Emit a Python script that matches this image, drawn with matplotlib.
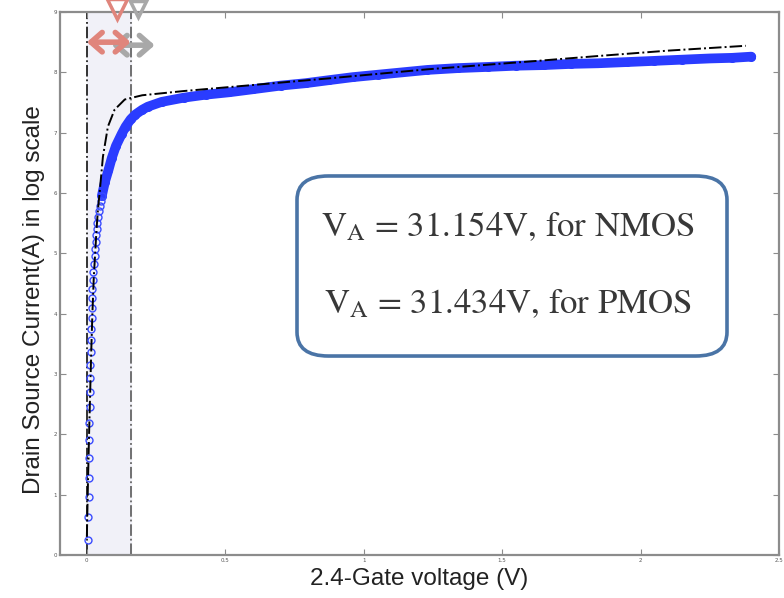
import matplotlib
matplotlib.use("Agg")
import matplotlib.pyplot as plt
from matplotlib.patches import FancyBboxPatch, FancyArrowPatch

# ---------------- data ----------------
# sparse measured points (open circles) near Vsd ~ 0
meas_x_low = [0.005, 0.005, 0.006, 0.006, 0.007, 0.008, 0.009, 0.010, 0.011, 0.012,
              0.013, 0.014, 0.015, 0.016, 0.017, 0.018, 0.019, 0.020, 0.022, 0.024,
              0.026, 0.028, 0.030, 0.032, 0.034, 0.036, 0.038, 0.040, 0.043, 0.046,
              0.050, 0.054]
meas_y_low = [0.25, 0.63, 0.96, 1.28, 1.61, 1.91, 2.19, 2.45, 2.70, 2.94,
              3.15, 3.37, 3.57, 3.75, 3.93, 4.10, 4.26, 4.41, 4.56, 4.69,
              4.83, 4.96, 5.07, 5.19, 5.31, 5.41, 5.51, 5.61, 5.70, 5.79,
              5.87, 5.95]
# dense measured points (knee and saturation region)
meas_x_high = [0.054, 0.065, 0.078, 0.090, 0.105, 0.126, 0.140, 0.158, 0.175, 0.20,
               0.22, 0.27, 0.35, 0.43, 0.515, 0.60, 0.70, 0.79, 0.874, 0.96,
               1.05, 1.14, 1.23, 1.34, 1.45, 1.55, 1.65, 1.75, 1.845, 1.95,
               2.05, 2.15, 2.25, 2.33, 2.40]
meas_y_high = [5.95, 6.18, 6.38, 6.58, 6.78, 6.98, 7.10, 7.22, 7.30, 7.38,
               7.43, 7.51, 7.58, 7.63, 7.67, 7.72, 7.78, 7.82, 7.87, 7.92,
               7.96, 8.00, 8.04, 8.07, 8.09, 8.11, 8.12, 8.14, 8.15, 8.17,
               8.19, 8.21, 8.23, 8.24, 8.26]
# fitted model (dash-dot black line)
model_x = [0.000, 0.004, 0.008, 0.012, 0.016, 0.020, 0.025, 0.030, 0.035, 0.040,
           0.047, 0.058, 0.076, 0.100, 0.137, 0.20, 0.35, 0.60, 0.874, 1.23,
           1.60, 1.845, 2.10, 2.38]
model_y = [0.30, 1.20, 2.00, 2.70, 3.40, 4.00, 4.60, 5.00, 5.40, 5.72,
           6.05, 6.60, 7.10, 7.38, 7.55, 7.62, 7.69, 7.79, 7.90, 8.05,
           8.18, 8.27, 8.36, 8.44]
region_x = [0.0, 0.158]          # shaded linear-region band
x_ticks = [0, 0.5, 1, 1.5, 2, 2.5]
x_tick_labels = ["0", "0.5", "1", "1.5", "2", "2.5"]
y_ticks = [0, 1, 2, 3, 4, 5, 6, 7, 8, 9]
box_lines = [r"$\mathrm{V_A}$ = 31.154V, for NMOS",
             r"$\mathrm{V_A}$ = 31.434V, for PMOS"]

# ---------------- figure ----------------
plt.rcParams['mathtext.fontset'] = 'stix'
W, H = 784, 598
fig = plt.figure(figsize=(W / 100, H / 100), dpi=100)
ax = fig.add_axes([60 / W, 43 / H, 719 / W, 543 / H])
ax.set_xlim(-0.097, 2.49)
ax.set_ylim(0, 9)

blue = '#2a3cff'
ax.axvspan(region_x[0], region_x[1], color='#f1f1f8', zorder=0)
ax.axvline(region_x[0], color='#222222', ls='-.', lw=1.3, zorder=1)
ax.axvline(region_x[1], color='#666666', ls='-.', lw=1.3, zorder=1)

ax.plot(meas_x_high, meas_y_high, color=blue, lw=7, solid_capstyle='round', zorder=3)
ax.plot(meas_x_high, meas_y_high, ls='none', marker='o', ms=5.5, mfc='none',
        mec=blue, mew=1.0, zorder=3)
ax.plot(meas_x_low, meas_y_low, ls='none', marker='o', ms=5, mfc='none',
        mec='#3a4cff', mew=1.0, zorder=3)
ax.plot(model_x, model_y, color='black', ls='-.', lw=1.4, zorder=4)

# arrows marking the linear region
ax.add_patch(FancyArrowPatch((0.09, 8.45), (0.245, 8.45),
                             arrowstyle='<->,head_width=7,head_length=8',
                             color='#a8a8a8', lw=4, mutation_scale=1,
                             shrinkA=0, shrinkB=0, zorder=5))
ax.add_patch(FancyArrowPatch((region_x[0], 8.5), (region_x[1], 8.5),
                             arrowstyle='<->,head_width=7,head_length=8',
                             color='#e0857c', lw=4, mutation_scale=1,
                             shrinkA=0, shrinkB=0, zorder=6))
ax.plot([0.185], [9.05], marker='v', ms=12, mfc='none', mec='#a8a8a8', mew=2.5,
        clip_on=False, zorder=5)
ax.plot([0.11], [9.05], marker='v', ms=14, mfc='none', mec='#e0857c', mew=2.5,
        clip_on=False, zorder=6)

for s in ax.spines.values():
    s.set_color('#8c8c8c')
    s.set_linewidth(1.6)

ax.set_xticks(x_ticks)
ax.set_xticklabels(x_tick_labels)
ax.set_yticks(y_ticks)
ax.tick_params(direction='in', length=4, width=0.8, colors='#8c8c8c',
               labelsize=4, labelcolor='#555555', top=True, right=True, pad=2)

ax.set_xlabel("2.4-Gate voltage (V)", fontsize=17.5, family='Liberation Sans',
              color='#222222', labelpad=4)
ax.set_ylabel("Drain Source Current(A) in log scale", fontsize=17.5,
              family='Liberation Sans', color='#222222')
ax.yaxis.set_label_coords(-0.021, 0.47)

# annotation box
box = FancyBboxPatch((297 / W + 0.04, (H - 362) / H + 0.05),
                     (727 - 297) / W - 0.08, (362 - 170) / H - 0.10,
                     boxstyle='round,pad=0.04,rounding_size=0.04',
                     transform=fig.transFigure, fc='white', ec='#4a74a6',
                     lw=2.6, zorder=10)
fig.patches.append(box)
fig.text(508 / W, (H - 228) / H, box_lines[0], ha='center', va='center',
         fontsize=25, family='STIXGeneral', color='#383838', zorder=11)
fig.text(508 / W, (H - 305) / H, box_lines[1], ha='center', va='center',
         fontsize=25, family='STIXGeneral', color='#383838', zorder=11)

fig.savefig('out.png', dpi=100)
